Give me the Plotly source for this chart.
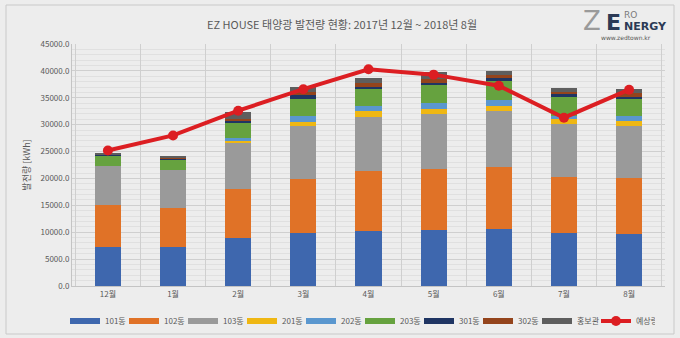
import plotly.graph_objects as go

# Monthly solar generation per building (kWh), Dec 2017 - Aug 2018
months = ["12월", "1월", "2월", "3월", "4월", "5월", "6월", "7월", "8월"]

b101 = [7310, 7310, 8990, 9800, 10230, 10410, 10600, 9800, 9670]
b102 = [7750, 7250, 9050, 10100, 11100, 11290, 11470, 10530, 10360]
b103 = [7250, 7010, 8490, 9850, 10160, 10230, 10470, 9740, 9720]
b201 = [0, 0, 430, 800, 1050, 1040, 990, 930, 930]
b202 = [0, 0, 620, 1060, 930, 1000, 1060, 610, 930]
b203 = [1920, 1860, 2790, 3160, 3110, 3410, 3590, 3590, 3100]
b301 = [300, 300, 370, 880, 480, 420, 440, 500, 490]
b302 = [0, 200, 370, 370, 740, 690, 610, 430, 630]
promo = [60, 60, 1240, 1040, 820, 1300, 810, 690, 750]

expected = [25200, 28000, 32600, 36600, 40300, 39300, 37250, 31300, 36500]

series = [
    ("101동", b101, "#3e67ae"),
    ("102동", b102, "#e07227"),
    ("103동", b103, "#9a9a9a"),
    ("201동", b201, "#efb713"),
    ("202동", b202, "#5a97cf"),
    ("203동", b203, "#66a23f"),
    ("301동", b301, "#1f3563"),
    ("302동", b302, "#94441c"),
    ("홍보관", promo, "#5e5e5e"),
]

FONT = "Noto Sans CJK KR"

fig = go.Figure()
for name, vals, color in series:
    fig.add_trace(go.Bar(x=months, y=vals, name=name, legendgroup=name,
                         showlegend=False,
                         marker=dict(color=color, line=dict(width=0))))
    # wide flat swatch for the legend entry
    fig.add_trace(go.Scatter(x=[None], y=[None], name=name, legendgroup=name,
                             mode="lines", line=dict(color=color, width=6)))

fig.add_trace(go.Scatter(x=months, y=expected, name="예상량",
                         mode="lines+markers",
                         line=dict(color="#dc1e22", width=4),
                         marker=dict(color="#dc1e22", size=10)))

# plot area in pixels: x 72..665, y 44..286
L, R, T, B = 72, 665, 44, 286
W, H = R - L, B - T


def px(x):
    return (x - L) / W


def py(y):
    return (B - y) / H


def label(text, x, y, size, color, family=FONT):
    return dict(text=text, x=px(x), y=py(y), xref="paper", yref="paper",
                xanchor="center", yanchor="middle", showarrow=False,
                font=dict(size=size, color=color, family=family))


annotations = [
    label("EZ HOUSE 태양광 발전량 현황: 2017년 12월 ~ 2018년 8월", 342, 24, 11, "#595959"),
    label("Z", 592, 21, 26, "#9a9a9a", "DejaVu Sans"),
    label("<b>E</b>", 613, 22, 22, "#2b3a55", "DejaVu Sans"),
    label("RO", 630, 15, 9, "#7a7a7a", "DejaVu Sans"),
    label("<b>NERGY</b>", 645, 26, 11, "#2b3a55", "DejaVu Sans"),
    label("www.zedtown.kr", 626, 37, 6, "#555555", "DejaVu Sans"),
]

fig.update_layout(
    width=680, height=338,
    margin=dict(l=L, r=680 - R, t=T, b=338 - B, autoexpand=False),
    barmode="stack",
    bargap=0.6,
    paper_bgcolor="#ededed",
    plot_bgcolor="#ededed",
    font=dict(family=FONT, size=8, color="#595959"),
    showlegend=True,
    legend=dict(orientation="h", x=px(360), xanchor="center", y=py(321), yanchor="middle",
                font=dict(size=8, color="#595959"), traceorder="normal",
                entrywidth=14, itemwidth=30, bgcolor="rgba(0,0,0,0)"),
    annotations=annotations,
    shapes=[dict(type="rect", xref="paper", yref="paper",
                 x0=px(6), x1=px(674), y0=py(334), y1=py(5),
                 line=dict(color="#c9c9c9", width=1), layer="below")],
)

fig.update_xaxes(type="category", tickson="boundaries", showgrid=True,
                 gridcolor="#cfcfcf", gridwidth=1, ticks="", showline=True,
                 linecolor="#c4c4c4", tickfont=dict(size=8, color="#595959"))
fig.update_yaxes(range=[0, 45000], dtick=5000, tickformat=".1f",
                 showgrid=True, gridcolor="#cfcfcf", gridwidth=1,
                 minor=dict(dtick=1000, showgrid=True, gridcolor="#e0e0e0", gridwidth=1),
                 showline=True, linecolor="#c4c4c4", zeroline=False,
                 tickfont=dict(size=8, color="#595959"),
                 title=dict(text="발전량 [kWh]", font=dict(size=9, color="#595959"),
                            standoff=8))

fig.write_html("out.html")
